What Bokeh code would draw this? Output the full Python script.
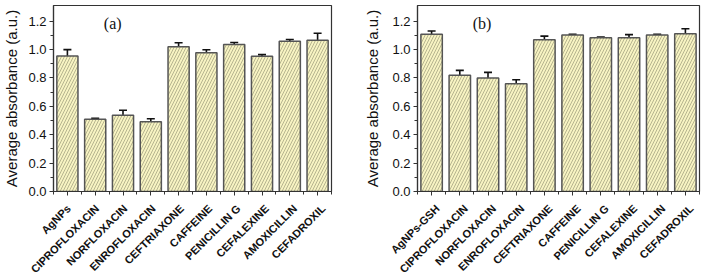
import math
from bokeh.plotting import figure
from bokeh.layouts import row, column
from bokeh.models import (ColumnDataSource, Whisker, TeeHead, FixedTicker, PrintfTickFormatter,
                          Label, Range1d)
from bokeh.core.properties import value
from bokeh.embed import file_html
from bokeh.resources import INLINE

categories_a = ["AgNPs", "CIPROFLOXACIN", "NORFLOXACIN", "ENROFLOXACIN", "CEFTRIAXONE",
                "CAFFEINE", "PENICILLIN G", "CEFALEXINE", "AMOXICILLIN", "CEFADROXIL"]
values_a = [0.954, 0.508, 0.537, 0.492, 1.020, 0.978, 1.036, 0.952, 1.058, 1.065]
errors_a = [0.045, 0.008, 0.035, 0.020, 0.028, 0.020, 0.013, 0.012, 0.013, 0.050]

categories_b = ["AgNPs-GSH", "CIPROFLOXACIN", "NORFLOXACIN", "ENROFLOXACIN", "CEFTRIAXONE",
                "CAFFEINE", "PENICILLIN G", "CEFALEXINE", "AMOXICILLIN", "CEFADROXIL"]
values_b = [1.107, 0.818, 0.799, 0.759, 1.069, 1.102, 1.083, 1.083, 1.102, 1.111]
errors_b = [0.023, 0.035, 0.040, 0.028, 0.025, 0.005, 0.005, 0.022, 0.005, 0.035]

y_ticks = [0.0, 0.2, 0.4, 0.6, 0.8, 1.0, 1.2]
y_label = "Average absorbance (a.u.)"

FONT = "Liberation Sans"
MAIN_H = 201
STRIP_H = 274 - MAIN_H


def make_panel(cats, vals, errs, tag, width, border_left, border_right, label_standoff, tag_x):
    n = len(cats)
    xs = [i + 1 for i in range(n)]
    src = ColumnDataSource(dict(
        x=xs, top=vals,
        upper=[v + e for v, e in zip(vals, errs)],
        lower=[v - e for v, e in zip(vals, errs)],
    ))
    x0, x1 = 0.5, n + 0.5
    p = figure(width=width, height=MAIN_H, output_backend="svg", toolbar_location=None,
               x_range=Range1d(x0, x1), y_range=Range1d(0, 1.31),
               min_border_left=border_left, min_border_right=border_right, min_border_top=5,
               min_border_bottom=MAIN_H - 191)
    p.vbar(x="x", top="top", width=0.76, source=src,
           fill_color="#f7f3c2", line_color="#555555", line_width=1.5,
           hatch_pattern="/", hatch_color="#9a9a78", hatch_scale=6, hatch_weight=0.7)
    w = Whisker(base="x", upper="upper", lower="lower", source=src,
                line_color="#111111", line_width=1.6,
                upper_head=TeeHead(size=8, line_width=1.6, line_color="#111111"),
                lower_head=TeeHead(size=8, line_width=1.6, line_color="#111111"))
    p.add_layout(w)

    p.xgrid.visible = False
    p.ygrid.visible = False
    p.outline_line_color = "#333333"
    p.outline_line_width = 1.2

    p.xaxis.ticker = FixedTicker(ticks=xs, minor_ticks=[i + 0.5 for i in range(n + 1)])
    p.xaxis.major_label_overrides = {x: "" for x in xs}
    p.xaxis.major_label_text_font_size = "1px"
    p.xaxis.major_label_standoff = 0

    p.yaxis.ticker = FixedTicker(ticks=y_ticks, minor_ticks=[i / 10 for i in range(13)])
    p.yaxis.formatter = PrintfTickFormatter(format="%.1f")
    p.yaxis.major_label_text_font = FONT
    p.yaxis.major_label_text_font_size = "13px"
    p.yaxis.major_label_text_color = "#111111"
    p.yaxis.major_label_standoff = 3
    p.yaxis.axis_label = y_label
    p.yaxis.axis_label_text_font = FONT
    p.yaxis.axis_label_text_font_style = "normal"
    p.yaxis.axis_label_text_font_size = "15px"
    p.yaxis.axis_label_text_color = "#111111"
    p.yaxis.axis_label_standoff = label_standoff

    for ax in (p.xaxis, p.yaxis):
        ax.axis_line_color = "#333333"
        ax.axis_line_width = 1.2
        ax.major_tick_line_color = "#333333"
        ax.minor_tick_line_color = "#333333"
        ax.major_tick_in = 0
        ax.major_tick_out = 4
        ax.minor_tick_in = 0
        ax.minor_tick_out = 3

    p.add_layout(Label(x=tag_x, y=1.18, text=tag, text_font="Liberation Serif",
                       text_font_size="16px", text_align="center", text_baseline="middle",
                       text_color="#111111"))

    # strip below the chart carrying the rotated category labels; its frame spans the
    # full width, so its x range is widened to keep the same scale as the chart frame
    frame_w = width - border_left - border_right
    upp = (x1 - x0) / frame_w
    s = figure(width=width, height=STRIP_H, output_backend="svg", toolbar_location=None,
               x_range=Range1d(x0 - border_left * upp, x1 + border_right * upp),
               y_range=Range1d(0, STRIP_H),
               min_border_left=0, min_border_right=0, min_border_top=0, min_border_bottom=0)
    s.axis.visible = False
    s.xgrid.visible = False
    s.ygrid.visible = False
    s.outline_line_color = None
    s.text(x=xs, y=[STRIP_H - 5] * n, text=cats, angle=math.pi / 4, x_offset=6,
           text_align="right", text_baseline="middle",
           text_font=value(FONT), text_font_style="bold",
           text_font_size="11px", text_color="#111111")
    return p, s


pa, sa = make_panel(categories_a, values_a, errors_a, "(a)", 350, 48, 19, 5, 2.63)
pb, sb = make_panel(categories_b, values_b, errors_b, "(b)", 351, 67, 2, 8, 2.79)

layout = column(row(pa, pb), row(sa, sb))
open("out.html", "w").write(file_html(layout, INLINE))
